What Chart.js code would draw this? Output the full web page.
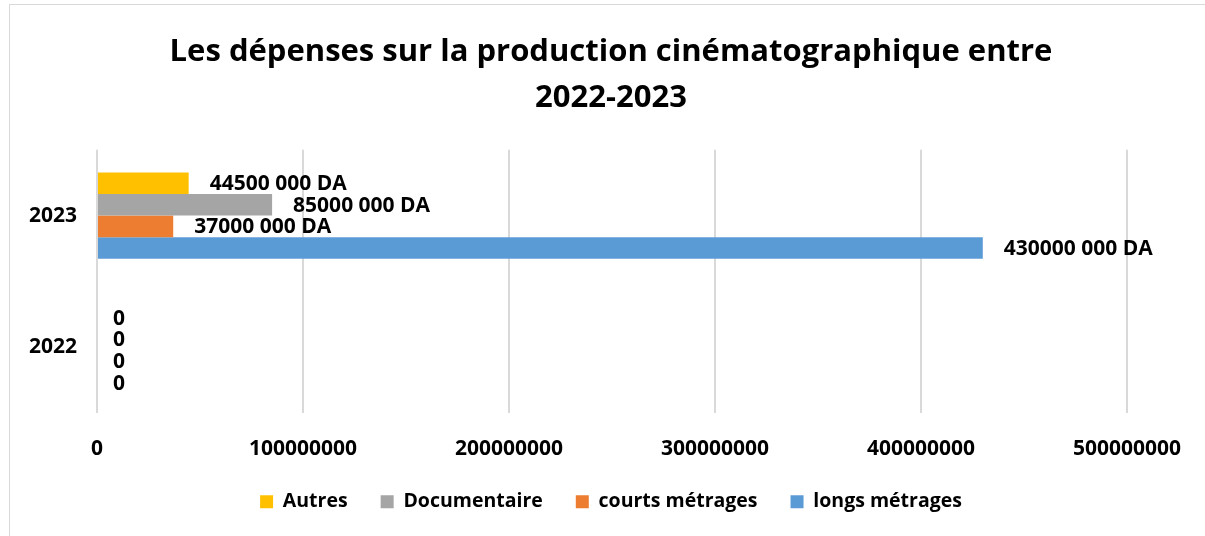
<!DOCTYPE html>
<html>
<head>
<meta charset="utf-8">
<script src="https://cdn.jsdelivr.net/npm/chart.js@4/dist/chart.umd.min.js"></script>
<style>
  html, body { margin: 0; padding: 0; background: #ffffff; }
  #wrap { position: relative; width: 1205px; height: 536px; overflow: hidden; }
  #frame { position: absolute; left: 9px; top: 4px; width: 1300px; height: 700px;
           border-left: 1px solid #d9d9d9; border-top: 1px solid #d9d9d9; }
  canvas { position: absolute; left: 0; top: 0; }
</style>
</head>
<body>
<div id="wrap">
  <div id="frame"></div>
  <canvas id="chart" width="1205" height="536"></canvas>
</div>
<script>
// Years shown on the category axis (top to bottom)
const years = ['2023', '2022'];

// Spending per production type, in DA
const autres       = [44500000, 0];
const documentaire = [85000000, 0];
const courts       = [37000000, 0];
const longs        = [430000000, 0];

// Value axis ticks
const axisTicks = [0, 100000000, 200000000, 300000000, 400000000, 500000000];

const FONT = '"Open Sans", "DejaVu Sans", sans-serif';

function formatDA(v) {
  if (v === 0) return '0';
  return (v / 1000) + ' 000 DA';
}

// Writes the value just past the end of each bar
const barLabels = {
  id: 'barLabels',
  afterDatasetsDraw(chart) {
    const ctx = chart.ctx;
    ctx.save();
    ctx.font = 'bold 21px ' + FONT;
    ctx.fillStyle = '#000000';
    ctx.textAlign = 'left';
    ctx.textBaseline = 'middle';
    chart.data.datasets.forEach((ds, i) => {
      const meta = chart.getDatasetMeta(i);
      meta.data.forEach((bar, j) => {
        const v = ds.data[j];
        const dx = v === 0 ? 16 : 21;
        const dy = v === 0 ? 4 : 1;
        ctx.fillText(formatDA(v), bar.x + dx, bar.y + dy);
      });
    });
    ctx.restore();
  }
};

// Pulls the legend row a little closer to the axis labels
const legendNudge = {
  id: 'legendNudge',
  afterLayout(chart) {
    const lg = chart.legend;
    if (lg) { lg.top -= 3; lg.bottom -= 3; }
  }
};

new Chart(document.getElementById('chart'), {
  type: 'bar',
  data: {
    labels: years,
    datasets: [
      { label: 'Autres',          data: autres,       backgroundColor: '#FFC000' },
      { label: 'Documentaire',    data: documentaire, backgroundColor: '#A5A5A5' },
      { label: 'courts métrages', data: courts,       backgroundColor: '#ED7D31' },
      { label: 'longs métrages',  data: longs,        backgroundColor: '#5B9BD5' }
    ]
  },
  options: {
    indexAxis: 'y',
    responsive: false,
    animation: false,
    devicePixelRatio: 1,
    layout: { padding: { left: 17, right: 0, top: 0, bottom: 11.5 } },
    datasets: { bar: { categoryPercentage: 0.656, barPercentage: 1.0 } },
    scales: {
      x: {
        min: 0,
        max: 500000000,
        afterBuildTicks(scale) { scale.ticks = axisTicks.map(v => ({ value: v })); },
        afterFit(scale) { scale.paddingRight = 78; scale.height = 49; },
        grid: { color: '#d9d9d9', lineWidth: 2, drawTicks: false },
        border: { display: false },
        ticks: {
          padding: 23,
          color: '#000000',
          font: { family: FONT, size: 21, weight: 'bold' },
          callback: v => String(v)
        }
      },
      y: {
        grid: { display: false, drawTicks: false },
        border: { display: false },
        afterFit(scale) { scale.width = 80; },
        ticks: {
          padding: 20,
          color: '#000000',
          font: { family: FONT, size: 21, weight: 'bold' }
        }
      }
    },
    plugins: {
      title: {
        display: true,
        text: ['Les dépenses sur la production cinématographique entre', '2022-2023'],
        color: '#000000',
        font: { family: FONT, size: 31, weight: 'bold', lineHeight: 1.48 },
        padding: { top: 29, bottom: 29 }
      },
      legend: {
        position: 'bottom',
        labels: {
          boxWidth: 13,
          boxHeight: 13,
          padding: 33,
          color: '#000000',
          font: { family: FONT, size: 19.5, weight: 'bold' }
        }
      },
      tooltip: { enabled: false }
    }
  },
  plugins: [barLabels, legendNudge]
});
</script>
</body>
</html>
